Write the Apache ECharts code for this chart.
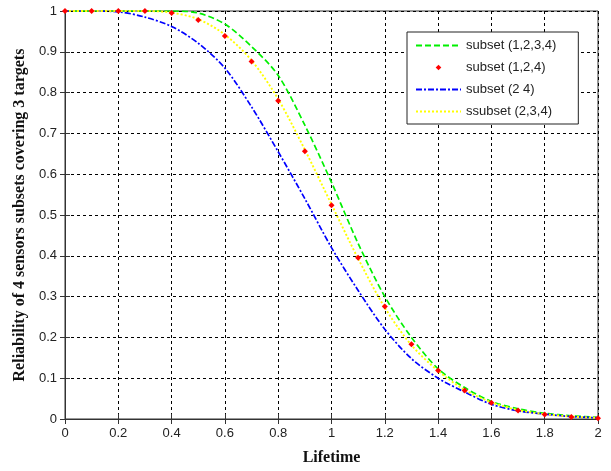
<!DOCTYPE html>
<html><head><meta charset="utf-8">
<script src="https://cdn.jsdelivr.net/npm/echarts@6/dist/echarts.min.js"></script>
<style>html,body{margin:0;padding:0;background:#fff}#c{width:611px;height:471px}</style>
</head><body><div id="c"></div>
<script>
const lifetime = [0,0.1,0.2,0.3,0.4,0.5,0.6,0.7,0.8,0.9,1.0,1.1,1.2,1.3,1.4,1.5,1.6,1.7,1.8,1.9,2.0];
const s1234 = [1,1,1,1,1,0.995,0.968,0.913,0.842,0.72,0.58,0.43,0.30,0.20,0.123,0.077,0.043,0.025,0.014,0.008,0.004];
const s124  = [1,1,1,1,0.995,0.978,0.939,0.876,0.78,0.656,0.524,0.395,0.276,0.183,0.119,0.07,0.04,0.021,0.011,0.005,0.002];
const s24   = [1,1,0.998,0.985,0.962,0.921,0.86,0.765,0.655,0.54,0.42,0.315,0.22,0.148,0.10,0.066,0.036,0.02,0.012,0.006,0.003];
const s234  = [1,1,1,1,0.996,0.98,0.942,0.879,0.784,0.66,0.526,0.393,0.273,0.181,0.118,0.071,0.041,0.022,0.012,0.006,0.003];
const names = ['subset (1,2,3,4)','subset (1,2,4)','subset (2 4)','ssubset (2,3,4)'];
const xTicks = [0,0.2,0.4,0.6,0.8,1,1.2,1.4,1.6,1.8,2];

const pair = arr => lifetime.map((x,i)=>[x,arr[i]]);
const chart = echarts.init(document.getElementById('c'), null, {renderer:'canvas'});
const lblFont = {fontFamily:'Liberation Sans, Arial', fontSize:13, color:'#222'};
const gridLine = {show:true, lineStyle:{color:'#000', type:[3,3], width:1}};
chart.setOption({
  animation:false,
  backgroundColor:'#fff',
  grid:{left:65, right:13, top:11, bottom:50, show:true, borderColor:'#333', borderWidth:1},
  legend:{
    orient:'vertical', left:407, top:32,
    backgroundColor:'#fff', borderColor:'#222', borderWidth:1,
    padding:[6,22,5,8], itemGap:7, itemWidth:45, itemHeight:7,
    textStyle:{fontFamily:'Liberation Sans, Arial', fontSize:13, color:'#222', lineHeight:15},
    data:[
      {name:names[0], itemStyle:{opacity:0}, lineStyle:{width:2}},
      {name:names[1], lineStyle:{opacity:0}},
      {name:names[2], itemStyle:{opacity:0}, lineStyle:{width:2}},
      {name:names[3], itemStyle:{opacity:0}, lineStyle:{width:2}}
    ]
  },
  xAxis:[{
    type:'value', min:0, max:2, interval:0.2,
    name:'Lifetime', nameLocation:'middle', nameGap:31,
    nameTextStyle:{fontFamily:'Liberation Serif, Times New Roman', fontWeight:'bold', fontSize:16, color:'#111'},
    axisLine:{show:true, lineStyle:{color:'#333'}},
    axisTick:{show:true, inside:true, length:5, lineStyle:{color:'#333'}},
    axisLabel:Object.assign({margin:8, formatter:v=>String(+v.toFixed(1))}, lblFont),
    splitLine:gridLine
  },{
    type:'value', min:0, max:2, interval:0.2, position:'top',
    axisLine:{show:true, lineStyle:{color:'#333'}},
    axisTick:{show:true, inside:true, length:5, lineStyle:{color:'#333'}},
    axisLabel:{show:false}, splitLine:{show:false}
  }],
  yAxis:[{
    type:'value', min:0, max:1, interval:0.1,
    name:'Reliability of 4 sensors subsets covering 3 targets', nameLocation:'middle', nameGap:32,
    nameTextStyle:{fontFamily:'Liberation Serif, Times New Roman', fontWeight:'bold', fontSize:16, color:'#111'},
    axisLine:{show:true, lineStyle:{color:'#333'}},
    axisTick:{show:true, inside:true, length:5, lineStyle:{color:'#333'}},
    axisLabel:Object.assign({margin:8, formatter:v=>String(+v.toFixed(1))}, lblFont),
    splitLine:gridLine
  },{
    type:'value', min:0, max:1, interval:0.1, position:'right',
    axisLine:{show:true, lineStyle:{color:'#333'}},
    axisTick:{show:true, inside:true, length:5, lineStyle:{color:'#333'}},
    axisLabel:{show:false}, splitLine:{show:false}
  }],
  series:[
    {name:names[0], type:'line', data:pair(s1234), smooth:0.3, symbol:'circle', showSymbol:false,
     color:'#00f000', lineStyle:{color:'#00f000', width:1.7, type:[6,3]}, z:3},
    {name:names[2], type:'line', data:pair(s24), smooth:0.3, symbol:'circle', showSymbol:false,
     color:'#0000ff', lineStyle:{color:'#0000ff', width:1.7, type:[6,2,2,2]}, z:4},
    {name:names[3], type:'line', data:pair(s234), smooth:0.3, symbol:'circle', showSymbol:false,
     color:'#ffff00', lineStyle:{color:'#ffff00', width:1.9, type:[2,2]}, z:5},
    {name:names[1], type:'line', data:pair(s124), symbol:'diamond', symbolSize:6, showSymbol:true,
     color:'#ff0000', itemStyle:{color:'#ff0000'}, lineStyle:{opacity:0, width:0}, z:6}
  ]
});
</script></body></html>
